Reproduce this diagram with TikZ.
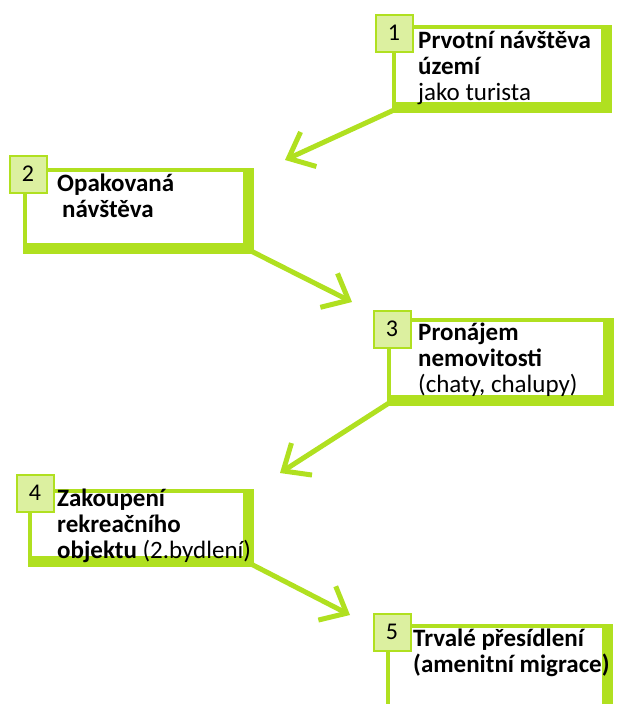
\documentclass[tikz,border=0pt]{standalone}
\usepackage{fontspec}
\setmainfont{Carlito}
\usetikzlibrary{arrows.meta,positioning}
\definecolor{limec}{HTML}{B0E020}
\definecolor{limebg}{HTML}{DCF0A0}
\tikzset{
  ar/.style={-{Straight Barb[length=22pt,width=38pt]},line width=5pt,limec},
  box/.style={draw=limec,line width=3.5pt,fill=white,anchor=north west,outer sep=0pt,inner sep=0pt},
  rim/.style={draw=limec,line width=7pt},
  num/.style={draw=limec,line width=2pt,fill=limebg,minimum size=37pt,inner sep=0pt,outer sep=0pt,font=\fontsize{24}{24}\selectfont},
  txt/.style={anchor=base west,align=left,inner sep=0pt,font=\fontsize{25}{26}\selectfont\bfseries}
}

\begin{document}
\begin{tikzpicture}[x=1pt,y=-1pt]
\clip (0,0) rectangle (617,704);
% boxes
\node[box,minimum width=209,minimum height=77] (b1) at (394,27) {};
\node[box,minimum width=220,minimum height=75] (b2) at (25,170) {};
\node[box,minimum width=216,minimum height=77] (b3) at (389,320) {};
\node[box,minimum width=215,minimum height=67] (b4) at (30,491) {};
\node[box,minimum width=216,minimum height=120] (b5) at (388,626) {};
% thick right and bottom edge
\foreach \b in {b1,b2,b3,b4,b5}
  \draw[rim] ([shift={(5.5pt,2pt)}]\b.north east) -- ([shift={(5.5pt,-5.5pt)}]\b.south east) -- ([shift={(-2pt,-5.5pt)}]\b.south west);
% step numbers
\node[num] (n1) at (394,33) {1};
\node[num] (n2) at (28,174) {2};
\node[num] (n3) at (392,329) {3};
\node[num] (n4) at (35,493) {4};
\node[num] (n5) at (392,632) {5};
% texts (placed at the baseline of their last line)
\node[txt] (t1) at (418,100) {Prvotní návštěva\\území\\{\mdseries jako turista}};
\node[txt] (t2) at (57,217) {Opakovaná\\\hspace{5pt}návštěva};
\node[txt] (t3) at (418,392) {Pronájem\\nemovitosti\\{\mdseries (chaty, chalupy)}};
\node[txt] (t4) at (57,558) {Zakoupení\\rekreačního\\objektu {\mdseries (2.bydlení)}};
\node[txt] (t5) at (413,672) {Trvalé přesídlení\\(amenitní migrace)};
% arrows
\coordinate (p1) at (285,160);
\coordinate (p2) at (352,302);
\coordinate (p3) at (280,473);
\coordinate (p4) at (350,615);
\draw[ar] ([yshift=-6pt]b1.south west) -- (p1);
\draw[ar] ([shift={(6pt,-6pt)}]b2.south east) -- (p2);
\draw[ar] ([yshift=-6pt]b3.south west) -- (p3);
\draw[ar] ([shift={(6pt,-6pt)}]b4.south east) -- (p4);
\end{tikzpicture}
\end{document}
